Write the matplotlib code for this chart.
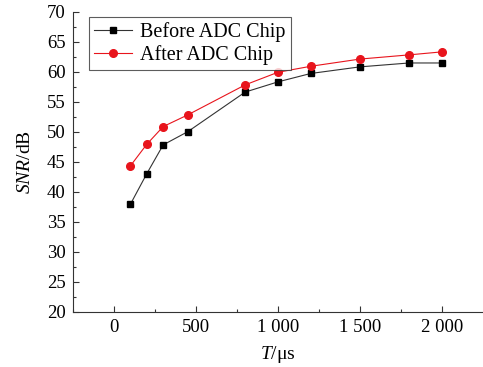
import matplotlib
matplotlib.use('Agg')
import matplotlib.pyplot as plt
from matplotlib.ticker import MultipleLocator, FuncFormatter

# SNR before / after the ADC chip
T = [100, 200, 300, 450, 800, 1000, 1200, 1500, 1800, 2000]
snrBefore = [37.9, 43.0, 47.8, 50.0, 56.6, 58.3, 59.7, 60.8, 61.45, 61.45]
snrAfter = [44.3, 47.9, 50.85, 52.8, 57.8, 59.9, 60.9, 62.1, 62.8, 63.3]

plt.rcParams['font.family'] = 'Liberation Serif'
plt.rcParams['mathtext.fontset'] = 'custom'
plt.rcParams['mathtext.rm'] = 'Liberation Serif'
plt.rcParams['mathtext.it'] = 'Liberation Serif:italic'

fig = plt.figure(figsize=(4.83, 3.67), dpi=100)
ax = fig.add_axes([0.1505, 0.1507, 0.8475, 0.8175])

ax.plot(T, snrBefore, color='#333333', lw=0.8, marker='s', ms=5,
        mfc='black', mec='black', label='Before ADC Chip')
ax.plot(T, snrAfter, color='#e8141c', lw=0.8, marker='o', ms=5.5,
        mfc='#e8141c', mec='#e8141c', label='After ADC Chip')

ax.set_xlim(-252, 2245)
ax.set_ylim(20, 70)
ax.xaxis.set_major_locator(MultipleLocator(500))
ax.xaxis.set_minor_locator(MultipleLocator(250))
ax.yaxis.set_major_locator(MultipleLocator(5))
ax.yaxis.set_minor_locator(MultipleLocator(2.5))
ax.xaxis.set_major_formatter(FuncFormatter(lambda v, p: '{:,}'.format(int(v)).replace(',', ' ')))

for s in ['top', 'right']:
    ax.spines[s].set_visible(False)
for s in ['left', 'bottom']:
    ax.spines[s].set_linewidth(0.8)
    ax.spines[s].set_color('#333333')
ax.tick_params(which='major', direction='in', length=4, width=0.8, labelsize=13.5,
               color='#333333', pad=5)
ax.tick_params(which='minor', direction='in', length=2, width=0.8, color='#333333')

ax.set_xlabel(r'$\mathit{T}$/μs', fontsize=14, labelpad=6)
ax.set_ylabel(r'$\mathit{SNR}$/dB', fontsize=14, labelpad=9)

leg = ax.legend(loc='upper left', bbox_to_anchor=(0.04, 0.982), borderaxespad=0,
                fontsize=14.5, frameon=True, fancybox=False, borderpad=0.25,
                labelspacing=0.15, handlelength=1.9, handletextpad=0.4)
leg.get_frame().set_edgecolor('#333333')
leg.get_frame().set_linewidth(0.8)

fig.savefig('out.png', dpi=100)
